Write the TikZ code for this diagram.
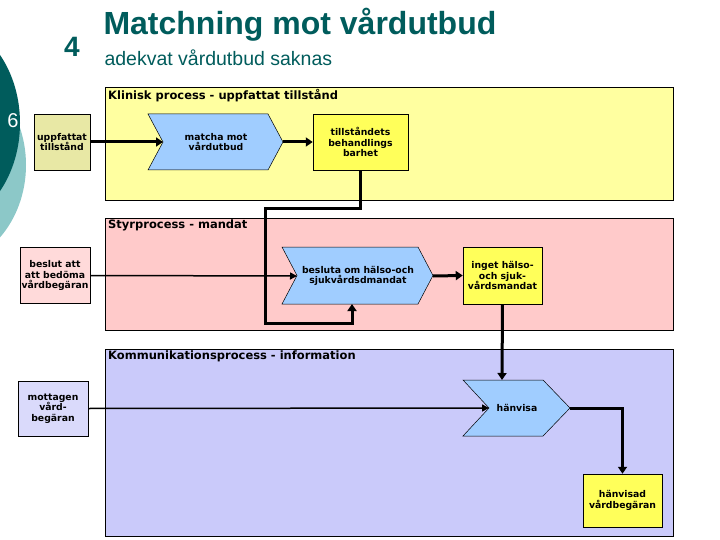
\documentclass[tikz,border=0pt]{standalone}
\usepackage{fontspec}
\setmainfont{Liberation Sans}
\newfontfamily\verd{DejaVu Sans}
\usetikzlibrary{arrows.meta}
\definecolor{teal1}{RGB}{0,92,92}
\definecolor{teal2}{RGB}{140,200,200}
\definecolor{ylane}{RGB}{255,255,160}
\definecolor{plane}{RGB}{255,202,202}
\definecolor{blane}{RGB}{202,202,250}
\definecolor{ybox}{RGB}{255,255,90}
\definecolor{kbox}{RGB}{232,232,165}
\definecolor{chev}{RGB}{160,205,255}
\begin{document}
\begin{tikzpicture}[x=1pt,y=-1pt,
  lane/.style={draw=black,line width=0.5pt},
  lbl/.style={anchor=north west,inner sep=0pt,font=\verd\bfseries\fontsize{11.5}{12}\selectfont},
  box/.style={draw=black,line width=0.5pt,align=center,font=\verd\bfseries\fontsize{9.3}{10.5}\selectfont,inner sep=1pt},
  chv/.style={draw=black,line width=0.5pt,fill=chev},
  ctext/.style={align=center,font=\verd\bfseries\fontsize{9.3}{10.5}\selectfont},
  thick/.style={line width=3pt,-{Triangle[length=7pt,width=9pt]}},
  thin/.style={line width=1.5pt,-{Triangle[length=7pt,width=7pt]}}]
\useasboundingbox (0,0) rectangle (720,540);
\fill[white] (0,0) rectangle (720,540);
% left decoration
\fill[teal2] (-62,165) ellipse (88 and 102);
\fill[teal1] (-62,123) ellipse (82 and 104);
\node[text=white,font=\fontsize{20}{20}\selectfont\rmfamily] (six) at (13,121) {6};
% titles
\node[anchor=west,text=teal1,font=\bfseries\fontsize{32}{32}\selectfont] (title) at (100,25) {Matchning mot vårdutbud};
\node[text=teal1,font=\bfseries\fontsize{28}{28}\selectfont] (four) at (72,47) {4};
\node[anchor=west,text=teal1,font=\fontsize{19.5}{20}\selectfont] (sub) at (101,58) {adekvat vårdutbud saknas};
% lanes
\draw[lane,fill=ylane] (105,87) rectangle (673,200);
\draw[lane,fill=plane] (105,218) rectangle (673,330);
\draw[lane,fill=blane] (105,349) rectangle (673,536);
\node[lbl] (l1) at (108,89) {Klinisk process - uppfattat tillstånd};
\node[lbl] (l2) at (108,220) {Styrprocess - mandat};
\node[lbl] (l3) at (108,351) {Kommunikationsprocess - information};
% boxes
\node[box,fill=kbox,minimum width=56pt,minimum height=56pt] (upp) at (62,142) {uppfattat\\tillstånd};
\node[box,fill=ybox,minimum width=95pt,minimum height=56pt] (til) at (360.5,142) {tillståndets\\behandlings\\barhet};
\node[box,fill=plane!70!white,minimum width=70pt,minimum height=56pt] (bes) at (55,275.5) {beslut att\\att bedöma\\vårdbegäran};
\node[box,fill=ybox,minimum width=79pt,minimum height=57pt] (ing) at (502.5,275.5) {inget hälso-\\och sjuk-\\vårdsmandat};
\node[box,fill=blane!70!white,minimum width=70pt,minimum height=55pt] (mot) at (53,408.5) {mottagen\\vård-\\begäran};
\node[box,fill=ybox,minimum width=79pt,minimum height=53pt] (hvd) at (622.5,500.5) {hänvisad\\vårdbegäran};
% chevrons
\draw[chv] (148,114) -- (268,114) -- (283,142) -- (268,170) -- (148,170) -- (163,142) -- cycle;
\node[ctext] (mat) at (216,142) {matcha mot\\vårdutbud};
\coordinate (matin) at (163,142); \coordinate (matout) at (283,142);
\draw[chv] (282,247) -- (418,247) -- (433,275.5) -- (418,304) -- (282,304) -- (297,275.5) -- cycle;
\node[ctext] (bsl) at (358,276) {besluta om hälso-och\\sjukvårdsdmandat};
\coordinate (bslin) at (297,276); \coordinate (bslout) at (433,276); \coordinate (bslb) at (352,304);
\draw[chv] (463,380) -- (543,380) -- (570,408) -- (543,436) -- (463,436) -- (489,408) -- cycle;
\node[ctext] (hvs) at (517,408) {hänvisa};
\coordinate (hvsin) at (489,408); \coordinate (hvsout) at (570,408); \coordinate (hvst) at (502,380);
% connectors
\draw[thick] (upp.east) -- (matin);
\draw[thick] (matout) -- (til.west);
\draw[thick] (til.south) |- (265,209) |- (352,323) -- (bslb);
\draw[thin] (bes.east) -- (bslin);
\draw[thick] (bslout) -- (ing.west);
\draw[thick] (ing.south) -- (hvst);
\draw[thin] (mot.east) -- (hvsin);
\draw[thick] (hvsout) -| (hvd.north);
\end{tikzpicture}
\end{document}
